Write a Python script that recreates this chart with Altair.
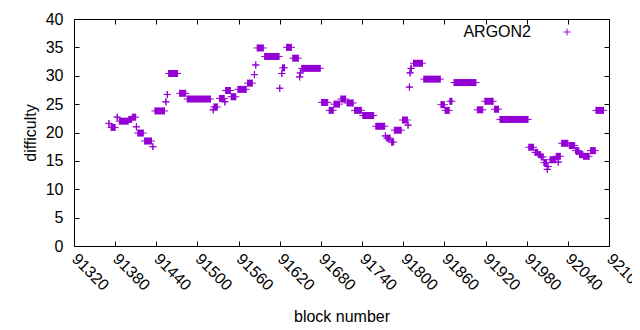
import altair as alt
import pandas as pd

# Runs of equal difficulty: first block, last block, difficulty
run_start = [91371, 91374, 91383, 91386, 91400, 91405, 91411, 91413, 91423, 91435,
             91438, 91454, 91456, 91458, 91474, 91485, 91523, 91524, 91532, 91540,
             91541, 91549, 91559, 91573, 91583, 91585, 91587, 91598, 91620, 91623,
             91624, 91630, 91639, 91649, 91650, 91652, 91681, 91692, 91699, 91709,
             91718, 91729, 91741, 91760, 91774, 91776, 91783, 91787, 91799, 91807,
             91809, 91810, 91811, 91815, 91830, 91855, 91861, 91868, 91874, 91908,
             91919, 91933, 91941, 91983, 91992, 91997, 92001, 92005, 92010, 92011,
             92014, 92023, 92026, 92031, 92042, 92051, 92057, 92063, 92073, 92081]
run_end = [91371, 91380, 91383, 91399, 91404, 91410, 91411, 91421, 91433, 91435,
           91452, 91454, 91456, 91471, 91483, 91519, 91523, 91529, 91539, 91540,
           91548, 91556, 91571, 91580, 91583, 91585, 91596, 91619, 91620, 91623,
           91627, 91637, 91647, 91649, 91650, 91679, 91690, 91698, 91707, 91716,
           91727, 91739, 91757, 91773, 91774, 91781, 91786, 91797, 91806, 91807,
           91809, 91810, 91812, 91828, 91854, 91860, 91867, 91871, 91906, 91916,
           91931, 91939, 91982, 91990, 91996, 92000, 92004, 92009, 92010, 92011,
           92022, 92029, 92026, 92040, 92050, 92056, 92062, 92071, 92080, 92092]
run_value = [21.6, 20.9, 22.7, 22.0, 22.3, 22.7, 21.0, 19.9, 18.5, 17.5,
             23.8, 25.4, 26.7, 30.4, 26.9, 25.9, 24.0, 24.5, 26.0, 25.4,
             27.4, 26.3, 27.6, 28.7, 30.2, 31.9, 34.9, 33.4, 27.8, 30.4,
             31.4, 35.0, 33.1, 29.8, 30.5, 31.3, 25.3, 23.9, 25.0, 25.9,
             25.2, 23.9, 23.0, 21.1, 19.4, 19.0, 18.3, 20.4, 22.2, 21.3,
             28.0, 30.5, 31.3, 32.2, 29.4, 24.9, 23.9, 25.5, 28.8, 24.0,
             25.5, 24.1, 22.3, 17.4, 16.5, 16.1, 15.7, 14.7, 13.5, 14.0,
             15.2, 15.8, 14.8, 18.1, 17.7, 16.8, 16.1, 15.8, 16.8, 23.9]

x_ticks = [91320, 91380, 91440, 91500, 91560, 91620, 91680, 91740, 91800,
           91860, 91920, 91980, 92040, 92100]
y_ticks = [0, 5, 10, 15, 20, 25, 30, 35, 40]
series_name = "ARGON2"

runs = pd.DataFrame({"start": run_start, "end": run_end, "difficulty": run_value})

W, H = 535, 227
PURPLE = "#9400d3"
FONT = "Liberation Sans"
CROSS = "M-1,0H1M0,-1V1"
TICK = 5

xs = alt.Scale(domain=[91320, 92100], nice=False, zero=False)
ys = alt.Scale(domain=[0, 40], nice=False, zero=False)

label_x = alt.Axis(values=x_ticks, orient="bottom", labelAngle=45, labelAlign="left",
                   labelBaseline="middle", labelPadding=10, tickSize=0, ticks=False,
                   labelOverlap=False, labelFlush=False, labelBound=False,
                   domain=False, grid=False, title="block number", titleY=75,
                   titleBaseline="alphabetic", format="d")
label_y = alt.Axis(values=y_ticks, orient="left", labelPadding=11, ticks=False,
                   tickSize=0, domain=False, grid=False, title="difficulty",
                   labelOverlap=False, labelFlush=False,
                   titleAngle=270, titleX=-44, titleY=H / 2, titleAlign="center",
                   titleBaseline="middle")
tick_x_bottom = alt.Axis(values=x_ticks, orient="top", offset=-H, labels=False,
                         tickSize=TICK, domain=False, grid=False, title="")
tick_x_top = alt.Axis(values=x_ticks, orient="bottom", offset=-H, labels=False,
                      tickSize=TICK, domain=False, grid=False, title="")
tick_y_left = alt.Axis(values=y_ticks, orient="right", offset=-W, labels=False,
                       tickSize=TICK, domain=False, grid=False, title="")
tick_y_right = alt.Axis(values=y_ticks, orient="left", offset=-W, labels=False,
                        tickSize=TICK, domain=False, grid=False, title="")

bars = alt.Chart(runs).mark_rule(color=PURPLE, strokeWidth=7, strokeCap="butt").encode(
    x=alt.X("start:Q", scale=xs, axis=label_x),
    x2="end:Q",
    y=alt.Y("difficulty:Q", scale=ys, axis=label_y),
)

ends = alt.Chart(runs).transform_fold(["start", "end"], as_=["edge", "block"]).mark_point(
    shape=CROSS, size=49, color=PURPLE, strokeWidth=1, filled=False, opacity=1
).encode(
    x=alt.X("block:Q", scale=xs, axis=tick_x_bottom),
    y=alt.Y("difficulty:Q", scale=ys, axis=tick_y_left),
)

ghost = alt.Chart(runs).mark_point(opacity=0).encode(
    x=alt.X("start:Q", scale=xs, axis=tick_x_top),
    y=alt.Y("difficulty:Q", scale=ys, axis=tick_y_right),
)

legend_df = pd.DataFrame({"name": [series_name]})
legend_text = alt.Chart(legend_df).mark_text(
    align="right", baseline="middle", font=FONT, fontSize=16, color="black"
).encode(text="name:N", x=alt.value(457), y=alt.value(13))
legend_sym = alt.Chart(legend_df).mark_point(
    shape=CROSS, size=49, color=PURPLE, strokeWidth=1, filled=False, opacity=1
).encode(x=alt.value(493), y=alt.value(13))

chart = alt.layer(bars, ends, ghost, legend_text, legend_sym).resolve_axis(
    x="independent", y="independent"
).properties(
    width=W, height=H,
    background="white",
    autosize=alt.AutoSizeParams(type="none"),
    padding={"left": 66, "top": 11, "right": 23, "bottom": 80},
).configure_view(
    stroke="black", strokeWidth=1
).configure_axis(
    labelFont=FONT, labelFontSize=16, labelColor="black",
    titleFont=FONT, titleFontSize=16, titleFontWeight="normal", titleColor="black",
    tickColor="black", tickWidth=1,
)

chart.save("out.html", embed_options={"renderer": "svg", "actions": False})
